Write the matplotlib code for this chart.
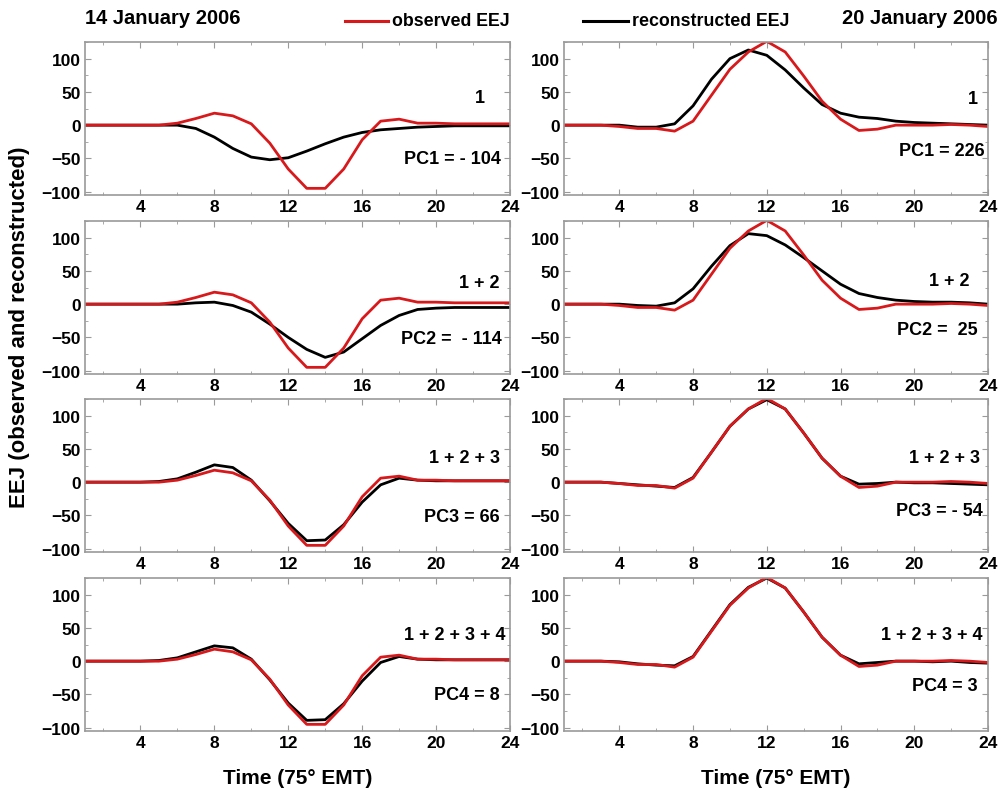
import numpy as np
import matplotlib
matplotlib.use("Agg")
import matplotlib.pyplot as plt
from matplotlib.lines import Line2D
from matplotlib.ticker import MultipleLocator

plt.rcParams["font.family"] = ["Liberation Sans", "DejaVu Sans"]
plt.rcParams["font.weight"] = "bold"

hours = np.arange(1, 25)

# 14 January 2006 - observed EEJ
obs_14 = [0, 0, 0, 0, 0, 3, 10, 18, 14, 2, -27, -66, -95, -95, -66, -22,
          6, 9, 3, 3, 2, 2, 2, 2]
# reconstructed with 1, 1+2, 1+2+3, 1+2+3+4 components
rec_14_1 = [0, 0, 0, 0, 0, 0, -5, -18, -35, -48, -52, -49, -39, -28, -18, -11,
            -7, -5, -3, -2, -1, -1, -1, -1]
rec_14_2 = [0, 0, 0, 0, 0, 0, 2, 3, -2, -12, -30, -50, -68, -80, -72, -52,
            -32, -17, -8, -6, -5, -5, -5, -5]
rec_14_3 = [0, 0, 0, 0, 1, 5, 15, 26, 22, 3, -28, -62, -88, -87, -64, -30,
            -4, 6, 3, 2, 2, 2, 2, 2]
rec_14_4 = [0, 0, 0, 0, 1, 5, 14, 23, 20, 3, -28, -63, -89, -88, -64, -30,
            -2, 7, 3, 2, 2, 2, 2, 2]

# 20 January 2006 - observed EEJ
obs_20 = [0, 0, 0, -2, -5, -5, -9, 6, 45, 84, 110, 126, 110, 74, 36, 9,
          -8, -6, 0, 0, 0, 1, 0, -2]
rec_20_1 = [0, 0, 0, 0, -3, -3, 2, 29, 69, 100, 113, 105, 83, 56, 31, 18,
            12, 10, 6, 4, 3, 2, 1, 0]
rec_20_2 = [0, 0, 0, 0, -2, -3, 2, 23, 57, 88, 106, 103, 89, 70, 50, 30,
            16, 10, 6, 4, 3, 3, 2, 0]
rec_20_3 = [0, 0, 0, -2, -4, -6, -8, 7, 45, 84, 110, 124, 110, 74, 36, 9,
            -3, -2, 0, -1, -1, -2, -3, -4]
rec_20_4 = [0, 0, 0, -1, -4, -6, -7, 7, 46, 85, 111, 125, 110, 74, 36, 9,
            -4, -2, 0, 0, -1, 0, -2, -3]

combo_labels = ["1", "1 + 2", "1 + 2 + 3", "1 + 2 + 3 + 4"]
pc_labels_14 = ["PC1 = - 104", "PC2 =  - 114", "PC3 = 66", "PC4 = 8"]
pc_labels_20 = ["PC1 = 226", "PC2 =  25", "PC3 = - 54", "PC4 = 3"]

rec_14 = [rec_14_1, rec_14_2, rec_14_3, rec_14_4]
rec_20 = [rec_20_1, rec_20_2, rec_20_3, rec_20_4]

RED = "#d7191c"
W, H = 1001, 804
fig = plt.figure(figsize=(W / 100, H / 100), dpi=100)

col_left = [85, 564]
col_width = [425, 424]
row_top = [43, 222, 400, 579]
ax_h = 153

# text positions (axes fraction): combo label, PC label
combo_pos = [[(0.942, 0.64), (0.976, 0.60), (0.976, 0.62), (0.99, 0.63)],
             [(0.976, 0.63), (0.957, 0.61), (0.981, 0.62), (0.986, 0.63)]]
pc_pos = [[(0.978, 0.24), (0.98, 0.23), (0.976, 0.23), (0.976, 0.24)],
          [(0.993, 0.29), (0.976, 0.29), (0.988, 0.27), (0.976, 0.30)]]

for c, (obs, recs, pcs) in enumerate([(obs_14, rec_14, pc_labels_14),
                                      (obs_20, rec_20, pc_labels_20)]):
    for r in range(4):
        ax = fig.add_axes([col_left[c] / W, (H - row_top[r] - ax_h) / H,
                           col_width[c] / W, ax_h / H])
        ax.plot(hours, recs[r], color="black", lw=2.0)
        ax.plot(hours, obs, color=RED, lw=2.0)
        ax.set_xlim(1, 24)
        ax.set_ylim(-105, 125)
        ax.set_xticks([4, 8, 12, 16, 20, 24])
        ax.xaxis.set_minor_locator(MultipleLocator(2))
        ax.set_yticks([-100, -50, 0, 50, 100])
        ax.yaxis.set_minor_locator(MultipleLocator(25))
        ax.tick_params(which="both", direction="in", top=True, right=True,
                       color="#9a9a9a", labelsize=12.5, pad=3)
        ax.tick_params(which="major", length=4)
        ax.tick_params(which="minor", length=2.5)
        for lab in ax.get_xticklabels() + ax.get_yticklabels():
            lab.set_fontweight("bold")
        for sp in ax.spines.values():
            sp.set_color("#9a9a9a")
            sp.set_linewidth(1.2)
        x0, y0 = combo_pos[c][r]
        ax.text(x0, y0, combo_labels[r], transform=ax.transAxes, ha="right",
                va="center", fontsize=13, fontweight="bold")
        x1, y1 = pc_pos[c][r]
        ax.text(x1, y1, pcs[r], transform=ax.transAxes, ha="right",
                va="center", fontsize=13, fontweight="bold")
        if r == 3:
            ax.set_xlabel("Time (75° EMT)", fontsize=15, fontweight="bold",
                          labelpad=13)

fig.text(85 / W, 1 - 18 / H, "14 January 2006", fontsize=14.5,
         fontweight="bold", ha="left", va="center")
fig.text(998 / W, 1 - 18 / H, "20 January 2006", fontsize=14.5,
         fontweight="bold", ha="right", va="center")

# header legend
fig.add_artist(Line2D([345 / W, 388 / W], [1 - 22 / H] * 2, color=RED, lw=2.2))
fig.text(392 / W, 1 - 21 / H, "observed EEJ", fontsize=12.8,
         fontweight="bold", ha="left", va="center")
fig.add_artist(Line2D([583 / W, 628 / W], [1 - 22 / H] * 2, color="black", lw=2.2))
fig.text(632 / W, 1 - 21 / H, "reconstructed EEJ", fontsize=12.8,
         fontweight="bold", ha="left", va="center")

fig.text(20 / W, 1 - 327 / H, "EEJ (observed and reconstructed)",
         rotation=90, fontsize=16, fontweight="bold", ha="center",
         va="center")

fig.savefig("out.png", dpi=100)
